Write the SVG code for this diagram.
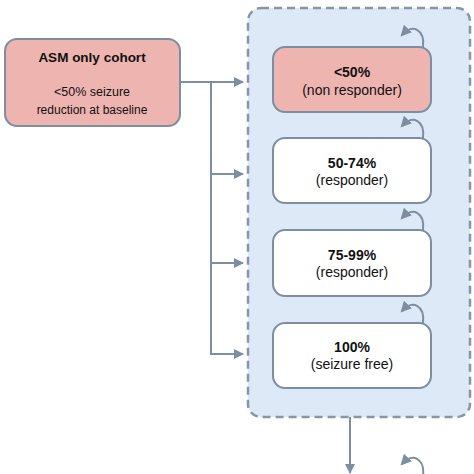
<svg xmlns="http://www.w3.org/2000/svg" width="474" height="474" viewBox="0 0 474 474">
<defs>
<style>
.box{stroke:#7d8ea3;stroke-width:2}
.pink{fill:#eeb4b0}
.white{fill:#ffffff}
.t{font-family:"Liberation Sans",Arial,sans-serif;fill:#111;text-anchor:middle}
.b{font-weight:bold}
.con{fill:none;stroke:#7d8ea3;stroke-width:2}
</style>
<marker id="ah" viewBox="0 0 10 10" refX="9" refY="5" markerWidth="5" markerHeight="5" orient="auto" markerUnits="strokeWidth">
<path d="M0,0 L10,5 L0,10 Z" fill="#7d8ea3"/>
</marker>
<marker id="lh" viewBox="0 0 10 10" refX="8" refY="5" markerWidth="5.5" markerHeight="5.5" orient="auto" markerUnits="strokeWidth">
<path d="M0,0 L10,5 L0,10 Z" fill="#7d8ea3"/>
</marker>
</defs>
<rect width="474" height="474" fill="#ffffff"/>
<g id="container">
<rect x="248" y="8" width="222" height="409" rx="13" fill="#dde9f6" stroke="#8795a8" stroke-width="2.5" stroke-dasharray="8,5"/>
</g>
<g id="connectors">
<path class="con" d="M180,82 H243" marker-end="url(#ah)"/>
<path class="con" d="M211,82 V354 H243" marker-end="url(#ah)"/>
<path class="con" d="M211,174 H243" marker-end="url(#ah)"/>
<path class="con" d="M211,263 H243" marker-end="url(#ah)"/>
<path class="con" d="M350,417 V473" marker-end="url(#ah)"/>
<path class="con" d="M423,47 C425,30 413,23 402,35" marker-end="url(#lh)"/>
<path class="con" d="M423,138 C425,121 413,114 402,126" marker-end="url(#lh)"/>
<path class="con" d="M423,230 C425,213 413,206 402,218" marker-end="url(#lh)"/>
<path class="con" d="M423,323 C425,306 413,299 402,311" marker-end="url(#lh)"/>
<path class="con" d="M423,476 C425,459 413,452 402,464" marker-end="url(#lh)"/>
</g>
<g id="cohort">
<rect class="box pink" x="5" y="39" width="175" height="87" rx="12"/>
<text class="t b" x="92" y="62" font-size="13.5">ASM only cohort</text>
<text class="t" x="92" y="96" font-size="12.5">&lt;50% seizure</text>
<text class="t" x="92" y="114" font-size="12">reduction at baseline</text>
</g>
<g id="nonresponder">
<rect class="box pink" x="273" y="47" width="158" height="65" rx="12"/>
<text class="t b" x="352" y="77" font-size="14">&lt;50%</text>
<text class="t" x="352" y="95" font-size="14">(non responder)</text>
</g>
<g id="responder50">
<rect class="box white" x="273" y="138" width="158" height="65" rx="12"/>
<text class="t b" x="352" y="168" font-size="14">50-74%</text>
<text class="t" x="352" y="185" font-size="14">(responder)</text>
</g>
<g id="responder75">
<rect class="box white" x="273" y="230" width="158" height="66" rx="12"/>
<text class="t b" x="352" y="260" font-size="14">75-99%</text>
<text class="t" x="352" y="277" font-size="14">(responder)</text>
</g>
<g id="seizurefree">
<rect class="box white" x="273" y="323" width="158" height="65" rx="12"/>
<text class="t b" x="352" y="352" font-size="14">100%</text>
<text class="t" x="352" y="369" font-size="14">(seizure free)</text>
</g>
</svg>
